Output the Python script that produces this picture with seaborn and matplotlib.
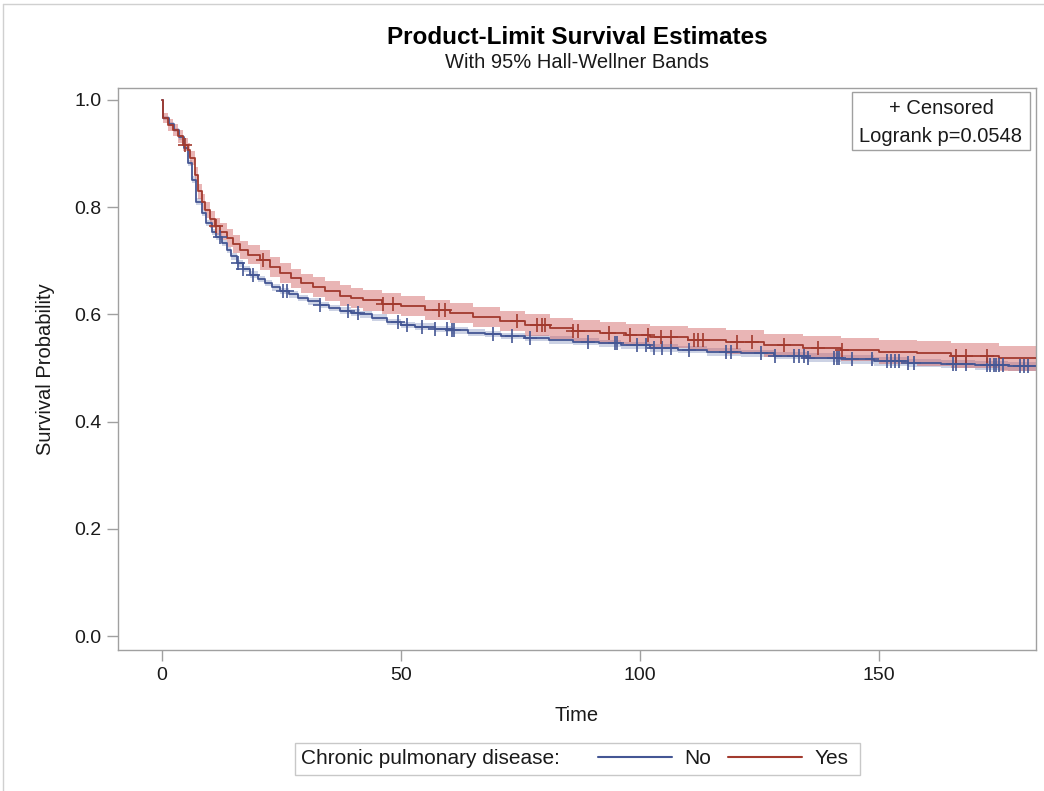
import numpy as np
import pandas as pd
import matplotlib
matplotlib.use("Agg")
import matplotlib.pyplot as plt
from matplotlib.lines import Line2D
from matplotlib.patches import Rectangle
import seaborn as sns

# ---------------- data ----------------
groups = ["No", "Yes"]

time_no = [0, 0.3, 1.5, 2.5, 3.5, 4.5, 5.5, 6.2, 7.2, 8.3, 9.3, 10.4, 11.4, 12.5, 13.5,
           14.5, 15.6, 17.0, 18.5, 20.0, 21.5, 23.0, 24.7, 26.5, 28.5, 30.5, 33.0, 35.0,
           37.2, 39.5, 41.5, 44.0, 47.0, 50.0, 53.0, 57.0, 60.5, 64.0, 67.5, 71.0, 76.0,
           81.0, 86.0, 91.5, 96.0, 102.0, 108.0, 114.0, 121.0, 128.0, 135.0, 142.0,
           149.0, 156.0, 163.0, 170.0, 177.0]
surv_no = [1.0, 0.966, 0.955, 0.944, 0.930, 0.911, 0.882, 0.851, 0.810, 0.789, 0.770,
           0.754, 0.745, 0.733, 0.720, 0.708, 0.695, 0.684, 0.674, 0.666, 0.658, 0.650,
           0.643, 0.637, 0.630, 0.624, 0.617, 0.612, 0.607, 0.603, 0.600, 0.594, 0.586,
           0.580, 0.577, 0.573, 0.570, 0.566, 0.563, 0.560, 0.556, 0.552, 0.549, 0.546,
           0.542, 0.537, 0.534, 0.530, 0.527, 0.523, 0.519, 0.516, 0.512, 0.509, 0.507,
           0.505, 0.503]
band_no = [0.0, 0.004, 0.004, 0.004, 0.005, 0.005, 0.005, 0.006, 0.006, 0.006, 0.006,
           0.006, 0.006, 0.006, 0.006, 0.006, 0.006, 0.006, 0.006, 0.006, 0.006, 0.006,
           0.006, 0.006, 0.006, 0.006, 0.006, 0.006, 0.006, 0.006, 0.006, 0.006, 0.006,
           0.006, 0.006, 0.006, 0.006, 0.006, 0.006, 0.006, 0.006, 0.007, 0.007, 0.007,
           0.007, 0.007, 0.007, 0.007, 0.007, 0.007, 0.008, 0.008, 0.008, 0.008, 0.008,
           0.008, 0.008]

time_yes = [0, 0.3, 1.3, 2.4, 3.4, 4.4, 5.4, 5.9, 6.9, 7.5, 8.3, 9.0, 10.0, 11.1, 12.1,
            13.5, 14.8, 16.3, 18.0, 20.5, 22.5, 24.7, 27.0, 29.0, 31.5, 34.0, 37.2, 39.5,
            42.0, 46.0, 50.0, 55.0, 60.3, 65.0, 70.7, 76.0, 81.2, 86.0, 91.6, 97.0,
            102.0, 110.0, 118.0, 126.0, 134.0, 142.0, 150.0, 158.0, 165.0, 175.0]
surv_yes = [1.0, 0.966, 0.953, 0.944, 0.932, 0.916, 0.907, 0.892, 0.860, 0.829, 0.810,
            0.795, 0.777, 0.764, 0.754, 0.742, 0.731, 0.720, 0.711, 0.701, 0.688, 0.677,
            0.667, 0.658, 0.651, 0.644, 0.635, 0.630, 0.626, 0.620, 0.615, 0.608, 0.602,
            0.595, 0.587, 0.580, 0.574, 0.569, 0.565, 0.561, 0.558, 0.553, 0.548, 0.542,
            0.538, 0.534, 0.530, 0.527, 0.523, 0.518]
band_yes = [0.0, 0.010, 0.011, 0.011, 0.012, 0.012, 0.013, 0.013, 0.014, 0.014, 0.015,
            0.015, 0.016, 0.016, 0.016, 0.017, 0.017, 0.017, 0.018, 0.018, 0.018, 0.018,
            0.018, 0.018, 0.019, 0.019, 0.019, 0.019, 0.019, 0.019, 0.019, 0.019, 0.019,
            0.019, 0.019, 0.020, 0.020, 0.020, 0.020, 0.021, 0.021, 0.021, 0.022, 0.022,
            0.022, 0.022, 0.023, 0.023, 0.023, 0.023]

censor_no = [12.1, 16.0, 17.0, 19.1, 25.4, 26.1, 33.1, 39.0, 41.0, 49.4, 51.2, 54.3,
             57.1, 59.6, 60.6, 61.1, 69.3, 73.2, 77.0, 89.2, 94.8, 95.1, 99.3, 101.3,
             102.8, 104.5, 106.4, 110.3, 118.0, 119.0, 125.2, 128.2, 132.2, 133.3, 134.3,
             135.2, 140.6, 141.1, 141.7, 144.3, 148.5, 151.6, 152.4, 153.3, 154.2, 156.1,
             157.3, 165.5, 166.0, 168.2, 172.5, 173.2, 174.1, 174.5, 175.0, 176.0, 179.5,
             180.3, 181.2]
censor_yes = [4.8, 11.4, 21.2, 46.3, 48.3, 58.0, 59.2, 74.2, 78.4, 79.4, 80.1, 86.0,
              87.1, 93.4, 97.9, 101.7, 104.3, 106.4, 111.2, 112.2, 113.1, 120.2, 123.4,
              130.1, 137.3, 142.2, 166.1, 168.2, 172.5]

t_end = 183.0
logrank_text = "Logrank p=0.0548"

# ---------------- style ----------------
sns.set_theme(style="white")
plt.rcParams["font.family"] = ["Liberation Sans", "DejaVu Sans"]

line_colors = {"No": "#445694", "Yes": "#A23A2E"}
band_colors = {"No": "#6F7EB3", "Yes": "#D05B5B"}
band_alpha = {"No": 0.35, "Yes": 0.45}
gray = "#A0A0A0"
txt = "#1a1a1a"
fs = 14.5

fig = plt.figure(figsize=(10.44, 7.91), dpi=100)
W, H = 1044, 791
ax = fig.add_axes([118 / W, 1 - 650 / H, (1036 - 118) / W, (650 - 88) / H])

data = {
    "No": (time_no, surv_no, band_no, censor_no),
    "Yes": (time_yes, surv_yes, band_yes, censor_yes),
}

frames = []
for g in groups:
    t, s, b, c = data[g]
    t = np.array(t + [t_end])
    s = np.array(s + [s[-1]])
    b = np.array(b + [b[-1]])
    ax.fill_between(t[1:], (s - b)[1:], (s + b)[1:], step="post",
                    color=band_colors[g], alpha=band_alpha[g], linewidth=0, zorder=1)
    frames.append(pd.DataFrame({"time": t, "surv": s, "group": g}))

df = pd.concat(frames, ignore_index=True)
sns.lineplot(data=df, x="time", y="surv", hue="group", hue_order=groups,
             palette=line_colors, estimator=None, sort=False, drawstyle="steps-post",
             linewidth=1.3, legend=False, ax=ax, zorder=3)

cframes = []
for g in groups:
    t, s, b, c = data[g]
    ta = np.array(t)
    sa = np.array(s)
    idx = np.searchsorted(ta, np.array(c), side="right") - 1
    cframes.append(pd.DataFrame({"time": c, "surv": sa[idx], "group": g}))
cdf = pd.concat(cframes, ignore_index=True)
for g in groups:
    sub = cdf[cdf["group"] == g]
    ax.plot(sub["time"], sub["surv"], linestyle="none", marker="+", markersize=10,
            markeredgewidth=1.2, color=line_colors[g], zorder=4)

ax.set_xlim(-9.2, 182.8)
ax.set_ylim(-0.026, 1.022)
ax.set_xticks([0, 50, 100, 150])
ax.set_yticks([0.0, 0.2, 0.4, 0.6, 0.8, 1.0])
ax.set_yticklabels(["0.0", "0.2", "0.4", "0.6", "0.8", "1.0"])
ax.tick_params(axis="both", which="major", direction="out", length=8, width=1,
               color=gray, labelsize=14, labelcolor=txt, pad=4, bottom=True, left=True)
for sp in ax.spines.values():
    sp.set_color(gray)
    sp.set_linewidth(1)
ax.set_xlabel("Time", fontsize=fs, color=txt, labelpad=16)
ax.set_ylabel("Survival Probability", fontsize=fs, color=txt, labelpad=14)

# inset box
fig.patches.append(Rectangle((852 / W, 1 - 150 / H), (1030 - 852) / W, 58 / H,
                             transform=fig.transFigure, facecolor="white",
                             edgecolor=gray, linewidth=1, zorder=5))
fig.text(941 / W, 1 - 108 / H, "+ Censored", ha="center", va="center",
         fontsize=fs, color=txt, zorder=6)
fig.text(941 / W, 1 - 136 / H, logrank_text, ha="center", va="center",
         fontsize=fs, color=txt, zorder=6)

# titles
fig.text(577 / W, 1 - 37 / H, "Product-Limit Survival Estimates", ha="center", va="center",
         fontsize=17.5, fontweight="bold", color="black")
fig.text(577 / W, 1 - 62 / H, "With 95% Hall-Wellner Bands", ha="center", va="center",
         fontsize=14.5, color=txt)

# bottom legend
fig.patches.append(Rectangle((295 / W, 1 - 775 / H), (860 - 295) / W, 32 / H,
                             transform=fig.transFigure, facecolor="white",
                             edgecolor="#C8C8C8", linewidth=1))
fig.text(301 / W, 1 - 759 / H, "Chronic pulmonary disease:", ha="left", va="center",
         fontsize=15, color=txt)
handles = [Line2D([], [], color=line_colors[g], linewidth=1.5) for g in groups]
leg = fig.legend(handles, groups, loc="center left", bbox_to_anchor=(598 / W, 1 - 759 / H),
                 ncol=2, frameon=False, fontsize=15, handlelength=3.55,
                 handletextpad=0.6, columnspacing=0.8, borderpad=0, borderaxespad=0)
for t_ in leg.get_texts():
    t_.set_color(txt)

# outer figure border (top and left visible)
fig.add_artist(Line2D([3 / W, 1], [1 - 4 / H, 1 - 4 / H], transform=fig.transFigure,
                      color="#D0D0D0", linewidth=1))
fig.add_artist(Line2D([3 / W, 3 / W], [0, 1 - 4 / H], transform=fig.transFigure,
                      color="#D0D0D0", linewidth=1))

fig.savefig("out.png", dpi=100, facecolor="white")
